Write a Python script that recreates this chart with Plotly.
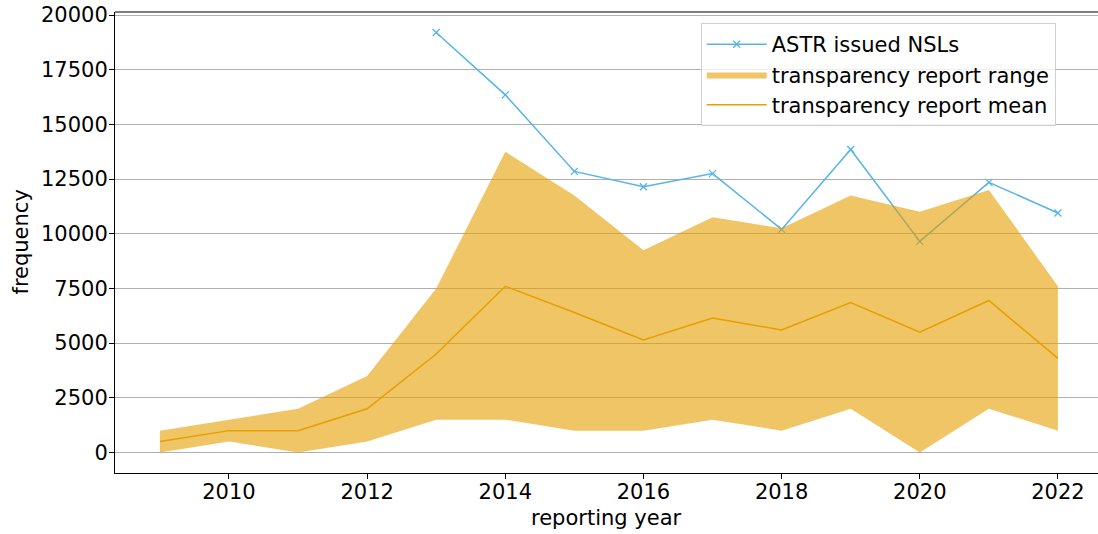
import plotly.graph_objects as go

years = list(range(2009, 2023))
astr_years = list(range(2013, 2023))
astr_nsls = [19200, 16350, 12850, 12150, 12750, 10200, 13850, 9650, 12350, 10950]
range_upper = [1000, 1500, 2000, 3500, 7500, 13750, 11750, 9250, 10750, 10250, 11750, 11000, 12000, 7600]
range_lower = [0, 500, 0, 500, 1500, 1500, 1000, 1000, 1500, 1000, 2000, 0, 2000, 1000]
report_mean = [500, 1000, 1000, 2000, 4500, 7600, 6400, 5150, 6150, 5600, 6850, 5500, 6950, 4300]
x_ticks = [2010, 2012, 2014, 2016, 2018, 2020, 2022]
y_ticks = [0, 2500, 5000, 7500, 10000, 12500, 15000, 17500, 20000]

BLUE = "#56B4E9"
ORANGE = "#E69F00"
FONT = "DejaVu Sans"
FS = 21

fig = go.Figure()
fig.add_trace(go.Scatter(
    x=astr_years, y=astr_nsls, mode="lines+markers", name="ASTR issued NSLs",
    line=dict(color=BLUE, width=1.5),
    marker=dict(symbol="x-thin", size=7, line=dict(color=BLUE, width=1.3)),
))
fig.add_trace(go.Scatter(
    x=years, y=range_lower, mode="lines", line=dict(width=0),
    showlegend=False, hoverinfo="skip",
))
fig.add_trace(go.Scatter(
    x=years, y=range_upper, mode="lines", line=dict(width=0),
    fill="tonexty", fillcolor="rgba(230,159,0,0.6)",
    name="transparency report range",
))
fig.add_trace(go.Scatter(
    x=years, y=report_mean, mode="lines", name="transparency report mean",
    line=dict(color=ORANGE, width=1.5),
))

fig.update_layout(
    width=1098, height=534,
    margin=dict(l=115, r=0, t=12, b=61, autoexpand=False),
    plot_bgcolor="white", paper_bgcolor="white",
    font=dict(family=FONT, size=FS, color="black"),
    legend=dict(
        x=0.957, xanchor="right", y=0.976, yanchor="top",
        bgcolor="rgba(255,255,255,0.8)", bordercolor="#d0d0d0", borderwidth=1,
        font=dict(family=FONT, size=FS), tracegroupgap=0, itemwidth=60,
        traceorder="normal",
    ),
    xaxis=dict(
        range=[2008.35, 2022.58], tickvals=x_ticks, ticktext=[str(t) for t in x_ticks],
        showgrid=False, zeroline=False, showline=True, linecolor="black", linewidth=1,
        ticks="outside", ticklen=5, tickcolor="black", automargin=False,
        tickfont=dict(size=FS), ticklabelstandoff=-5,
    ),
    yaxis=dict(
        range=[-937, 20137], tickvals=y_ticks, ticktext=[str(t) for t in y_ticks],
        showgrid=True, gridcolor="#b0b0b0", gridwidth=1, zeroline=False,
        showline=True, linecolor="black", linewidth=1,
        ticks="outside", ticklen=5, tickcolor="black", automargin=False,
        tickfont=dict(size=FS), ticklabelstandoff=-3,
    ),
    showlegend=True,
    annotations=[
        dict(text="reporting year", xref="paper", yref="paper", x=0.5, y=0,
             xanchor="center", yanchor="middle", yshift=-45, showarrow=False,
             font=dict(family=FONT, size=FS)),
        dict(text="frequency", xref="paper", yref="paper", x=0, y=0.5,
             xanchor="center", yanchor="middle", xshift=-95, textangle=-90,
             showarrow=False, font=dict(family=FONT, size=FS)),
    ],
)
fig.add_shape(type="line", xref="paper", yref="paper", x0=0, x1=1, y0=1, y1=1,
              line=dict(color="#555555", width=1.5))

fig.write_html("out.html", config={"displayModeBar": False},
               post_script="document.body.style.margin='0';document.body.style.overflow='hidden';")
